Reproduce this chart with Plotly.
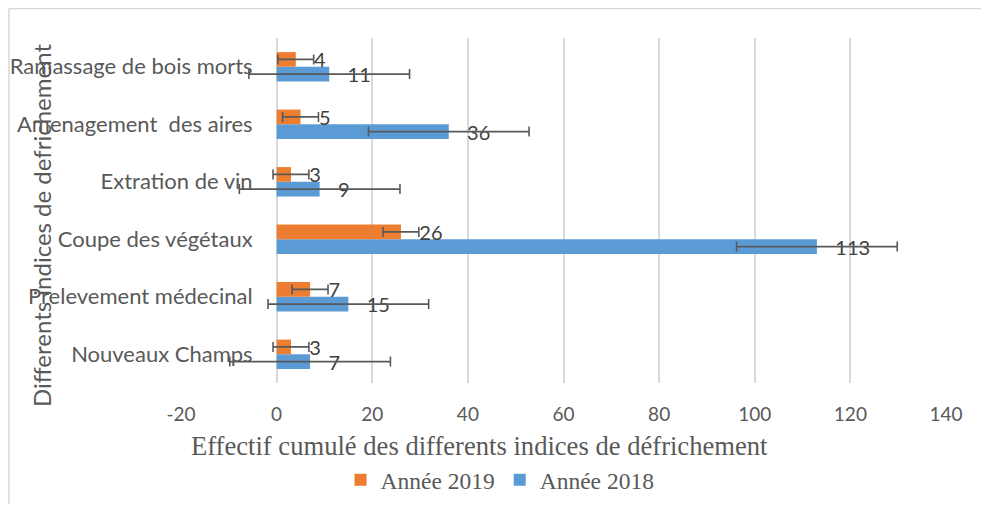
import plotly.graph_objects as go

categories = ["Nouveaux Champs", "Prelevement médecinal", "Coupe des végétaux",
              "Extration de vin", "Amenagement  des aires", "Ramassage de bois morts"]
values_2018 = [7, 15, 113, 9, 36, 11]
values_2019 = [3, 7, 26, 3, 5, 4]
err_2018 = [16.8, 16.8, 16.8, 16.8, 16.8, 16.8]
err_2019 = [3.75, 3.75, 3.75, 3.75, 3.75, 3.75]
x_ticks = [-20, 0, 20, 40, 60, 80, 100, 120, 140]

GRAY = "#595959"
LABEL = "#404040"
pad = "\u00a0" * 3

fig = go.Figure()
fig.add_trace(go.Bar(
    y=categories, x=values_2018, orientation="h", name="Année 2018",
    marker=dict(color="#5B9BD5", line=dict(width=0)),
    error_x=dict(type="data", array=err_2018, visible=True, color=GRAY, thickness=1.6, width=5),
    text=[pad + str(v) for v in values_2018], textposition="outside", constraintext="none",
    cliponaxis=False,
    textfont=dict(family="Lato", size=20, color=LABEL),
))
fig.add_trace(go.Bar(
    y=categories, x=values_2019, orientation="h", name="Année 2019",
    marker=dict(color="#ED7D31", line=dict(width=0)),
    error_x=dict(type="data", array=err_2019, visible=True, color=GRAY, thickness=1.6, width=5),
    text=[pad + str(v) for v in values_2019], textposition="outside", constraintext="none",
    cliponaxis=False,
    textfont=dict(family="Lato", size=20, color=LABEL),
))

# page body has an 8px margin on every side: keep the page inside the window
OFF = 8
W, H = 989 - 2 * OFF, 512 - 2 * OFF
L, R, T, B = 181 - OFF, 946 - OFF, 38 - OFF, 383 - OFF


def px(xp):
    return (xp - OFF - L) / (R - L)


def py(yp):
    return (B - (yp - OFF)) / (B - T)


border = dict(color="#d9d9d9", width=1.5)

fig.update_layout(
    template="none",
    width=W, height=H,
    margin=dict(l=L, r=W - R, t=T, b=H - B, pad=0, autoexpand=False),
    paper_bgcolor="white", plot_bgcolor="white",
    barmode="group", bargap=0.49, bargroupgap=0,
    showlegend=True,
    legend=dict(orientation="h", traceorder="reversed", x=px(500), y=py(480),
                xanchor="center", yanchor="middle", bgcolor="rgba(0,0,0,0)",
                font=dict(family="Liberation Serif", size=23.5, color=GRAY)),
    xaxis=dict(range=[-20, 140], tickvals=x_ticks, ticktext=[str(t) for t in x_ticks],
               showgrid=True, gridcolor="#d9d9d9",
               gridwidth=1.5, zeroline=True, zerolinecolor="#d9d9d9", zerolinewidth=1.5,
               showline=False, ticks="", ticklabelstandoff=18, automargin=False,
               tickfont=dict(family="Lato", size=19, color=GRAY)),
    yaxis=dict(categoryorder="array", categoryarray=categories, anchor="free",
               position=20 / 160, showgrid=False, showline=False, ticks="",
               ticklabelstandoff=24, automargin=False, zeroline=False,
               tickfont=dict(family="Lato", size=22, color=GRAY)),
    annotations=[
        dict(text="Effectif cumulé des differents indices de défrichement", xref="paper",
             yref="paper", x=px(479), y=py(446), showarrow=False, xanchor="center",
             yanchor="middle", font=dict(family="Liberation Serif", size=26.6, color=GRAY)),
        dict(text="Differents indices de defrichement", xref="paper", yref="paper",
             x=px(41), y=py(226), showarrow=False, textangle=-90, xanchor="center",
             yanchor="middle", font=dict(family="Lato", size=24, color=GRAY)),
    ],
    shapes=[
        dict(type="line", xref="paper", yref="paper", x0=px(9), x1=px(995),
             y0=py(8.5), y1=py(8.5), line=border, layer="below"),
        dict(type="line", xref="paper", yref="paper", x0=px(9), x1=px(9),
             y0=py(8.5), y1=py(520), line=border, layer="below"),
    ],
)

fig.write_html("out.html")
